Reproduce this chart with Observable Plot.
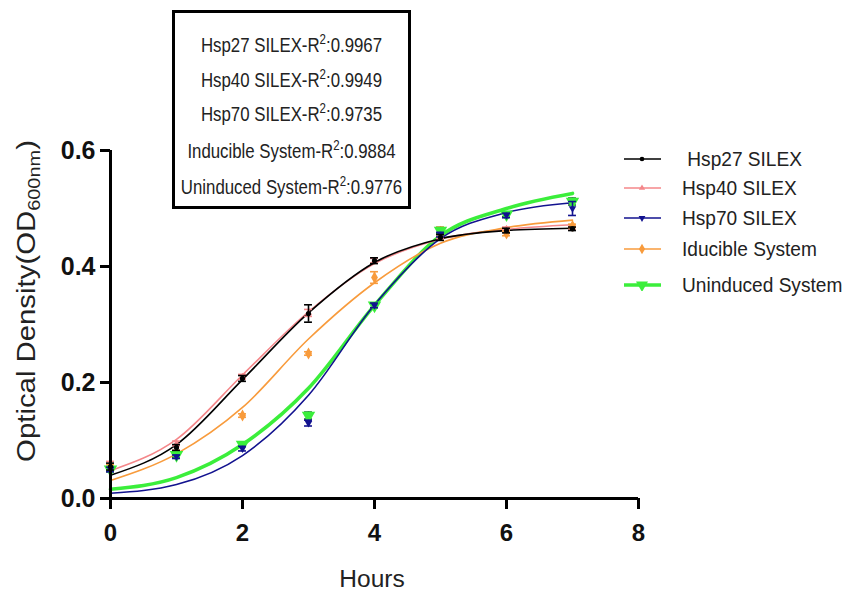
<!DOCTYPE html>
<html>
<head>
<meta charset="utf-8">
<script src="https://cdn.jsdelivr.net/npm/d3@7"></script>
<script src="https://cdn.jsdelivr.net/npm/@observablehq/plot@0.6"></script>
<style>
  body { margin: 0; background: #fff; font-family: "Liberation Sans", Arial, sans-serif; }
  #wrap { position: relative; width: 845px; height: 591px; overflow: hidden; }
  #box { position: absolute; left: 172px; top: 10px; width: 233px; height: 193px; border: 3px solid #000; background: #fff; }
  #box div { position: absolute; left: -20px; width: 273px; text-align: center; font-size: 20.5px; line-height: 22px; color: #222; white-space: nowrap; transform: scaleX(0.82); transform-origin: 50% 50%; }
  #box sup { font-size: 14px; vertical-align: 8px; line-height: 0; }
  #legend { position: absolute; left: 620px; top: 0; }
  .li { position: absolute; left: 0; width: 240px; height: 26px; display: flex; align-items: center; white-space: pre; font-size: 20px; color: #222; }
  .li svg { margin-right: 18px; }
  .li span { display: inline-block; transform: scaleX(0.955); transform-origin: 0 50%; }
</style>
</head>
<body>
<div id="wrap"></div>
<script>
// ---- data ----
const hours = [0, 1, 2, 3, 4, 5, 6, 7];
const seriesNames = [" Hsp27 SILEX", "Hsp40 SILEX", "Hsp70 SILEX", "Iducible System", "Uninduced System"];
const seriesColors = ["#000000", "#f4878a", "#12128f", "#f89b3c", "#3bee3b"];
const errColors = ["#000000", "#f4878a", "#12128f", "#f89b3c", "#136b2a"];

const hsp27Mean = [0.055, 0.088, 0.207, 0.319, 0.410, 0.450, 0.462, 0.465];
const hsp27Sd   = [0.006, 0.005, 0.005, 0.015, 0.005, 0.005, 0.004, 0.003];
const hsp40Mean = [0.060, 0.095, 0.210, 0.320, 0.410, 0.452, 0.465, 0.466];
const hsp40Sd   = [0.004, 0.004, 0.004, 0.006, 0.004, 0.004, 0.003, 0.003];
const hsp70Mean = [0.050, 0.072, 0.086, 0.130, 0.333, 0.455, 0.488, 0.500];
const hsp70Sd   = [0.004, 0.003, 0.004, 0.005, 0.004, 0.004, 0.004, 0.012];
const inducMean = [0.055, 0.079, 0.143, 0.250, 0.381, 0.460, 0.457, 0.470];
const inducSd   = [0.004, 0.004, 0.003, 0.003, 0.010, 0.008, 0.004, 0.003];
const uninMean  = [0.050, 0.075, 0.093, 0.143, 0.333, 0.462, 0.490, 0.512];
const uninSd    = [0.004, 0.004, 0.003, 0.006, 0.004, 0.005, 0.004, 0.006];

// fitted curves, read at each hour
const hsp27Fit = [0.040, 0.093, 0.205, 0.320, 0.407, 0.448, 0.462, 0.466];
const hsp40Fit = [0.048, 0.102, 0.213, 0.322, 0.405, 0.447, 0.464, 0.472];
const hsp70Fit = [0.009, 0.024, 0.074, 0.178, 0.334, 0.448, 0.493, 0.510];
const inducFit = [0.031, 0.077, 0.157, 0.275, 0.372, 0.440, 0.467, 0.480];
const uninFit  = [0.016, 0.036, 0.093, 0.190, 0.333, 0.453, 0.500, 0.526];

const r2Labels = ["Hsp27 SILEX", "Hsp40 SILEX", "Hsp70 SILEX", "Inducible System", "Uninduced System"];
const r2Values = ["0.9967", "0.9949", "0.9735", "0.9884", "0.9776"];

const xTicks = [0, 2, 4, 6, 8];
const yTicks = [0, 0.2, 0.4, 0.6];

// ---- build tables ----
const means = [hsp27Mean, hsp40Mean, hsp70Mean, inducMean, uninMean];
const sds = [hsp27Sd, hsp40Sd, hsp70Sd, inducSd, uninSd];
const fits = [hsp27Fit, hsp40Fit, hsp70Fit, inducFit, uninFit];
const pts = [], fitRows = [];
seriesNames.forEach((s, i) => {
  hours.forEach((h, j) => {
    pts.push({s: i, t: h, y: means[i][j], sd: sds[i][j]});
    fitRows.push({s: i, t: h, y: fits[i][j]});
  });
});
const symbols = ["circle", "triangle", "triangle", "diamond", "triangle"];
const rotates = [0, 0, 180, 0, 180];
const radii = [2.6, 2.6, 2.8, 3.6, 5];
const lineW = [1.6, 1.6, 1.6, 1.6, 3.6];
const lineOrder = [4, 1, 3, 2, 0];
const ptOrder = [1, 3, 4, 2, 0];

const marks = [];
lineOrder.forEach(i => {
  marks.push(Plot.line(fitRows.filter(d => d.s === i), {x: "t", y: "y", stroke: seriesColors[i], strokeWidth: lineW[i], curve: "monotone-x"}));
});
ptOrder.forEach(i => {
  const data = pts.filter(d => d.s === i);
  marks.push(Plot.ruleX(data, {x: "t", y1: d => d.y - d.sd, y2: d => d.y + d.sd, stroke: errColors[i], strokeWidth: 1.6}));
  marks.push(Plot.ruleY(data, {y: d => d.y - d.sd, x1: d => d.t - 0.06, x2: d => d.t + 0.06, stroke: errColors[i], strokeWidth: 1.6}));
  marks.push(Plot.ruleY(data, {y: d => d.y + d.sd, x1: d => d.t - 0.06, x2: d => d.t + 0.06, stroke: errColors[i], strokeWidth: 1.6}));
  marks.push(Plot.dot(data, {x: "t", y: "y", symbol: symbols[i], rotate: rotates[i], r: radii[i], fill: seriesColors[i], stroke: "none"}));
});

const chart = Plot.plot({
  width: 845,
  height: 591,
  marginLeft: 110,
  marginRight: 207,
  marginTop: 150,
  marginBottom: 93,
  style: {fontFamily: "'Liberation Sans', Arial, sans-serif", background: "transparent", overflow: "visible"},
  x: {domain: [0, 8], label: null},
  y: {domain: [0, 0.6], label: null},
  marks: [
    Plot.axisX({ticks: xTicks, tickSize: 11, strokeWidth: 3, tickPadding: 14, fontSize: 24, fontWeight: "bold", fill: "#111", tickFormat: d => String(d), label: null}),
    Plot.axisY({ticks: yTicks, tickSize: 10, strokeWidth: 3, tickPadding: 5, fontSize: 25, fontWeight: "bold", fill: "#111", tickFormat: d3.format(".1f"), label: null}),
    ...marks,
    Plot.ruleX([0], {stroke: "#000", strokeWidth: 3}),
    Plot.ruleY([0], {stroke: "#000", strokeWidth: 3})
  ]
});
document.getElementById("wrap").appendChild(chart);

// axis titles
const svg = d3.select(chart);
svg.append("text")
  .attr("x", 372).attr("y", 587)
  .attr("text-anchor", "middle")
  .attr("font-size", 24.5).attr("fill", "#222")
  .text("Hours");
const yl = svg.append("text")
  .attr("text-anchor", "middle")
  .attr("font-size", 25).attr("fill", "#222");
yl.append("tspan").text("Optical Density(OD");
yl.append("tspan").attr("font-size", 17).attr("dy", 5).text("600nm");
yl.append("tspan").attr("dy", -5).text(")");
const ylw = yl.node().getBBox().width;
yl.attr("transform", `translate(35,301) rotate(-90) scale(${322 / ylw},1)`);

// R² box
const box = document.createElement("div");
box.id = "box";
const lineY = [32, 67, 101, 138, 174];
r2Labels.forEach((l, i) => {
  const d = document.createElement("div");
  d.style.top = (lineY[i] - 11) + "px";
  d.innerHTML = l + "-R<sup>2</sup>:" + r2Values[i];
  box.appendChild(d);
});
document.getElementById("wrap").appendChild(box);

// legend
const legend = document.createElement("div");
legend.id = "legend";
const legY = [159, 188, 218, 249, 285];
seriesNames.forEach((s, i) => {
  const item = document.createElement("div");
  item.className = "li";
  item.style.top = (legY[i] - 13) + "px";
  const sw = d3.create("svg").attr("width", 44).attr("height", 12);
  sw.append("line").attr("x1", 4).attr("x2", 41).attr("y1", 6).attr("y2", 6)
    .attr("stroke", seriesColors[i]).attr("stroke-width", lineW[i]);
  const sym = d3.symbol().type({circle: d3.symbolCircle, triangle: d3.symbolTriangle, diamond: d3.symbolDiamond}[symbols[i]]).size(Math.PI * radii[i] * radii[i] * 0.8);
  sw.append("path").attr("d", sym()).attr("fill", seriesColors[i])
    .attr("transform", `translate(22,6) rotate(${rotates[i]})`);
  item.appendChild(sw.node());
  const t = document.createElement("span");
  t.textContent = s;
  item.appendChild(t);
  legend.appendChild(item);
});
document.getElementById("wrap").appendChild(legend);
</script>
</body>
</html>
